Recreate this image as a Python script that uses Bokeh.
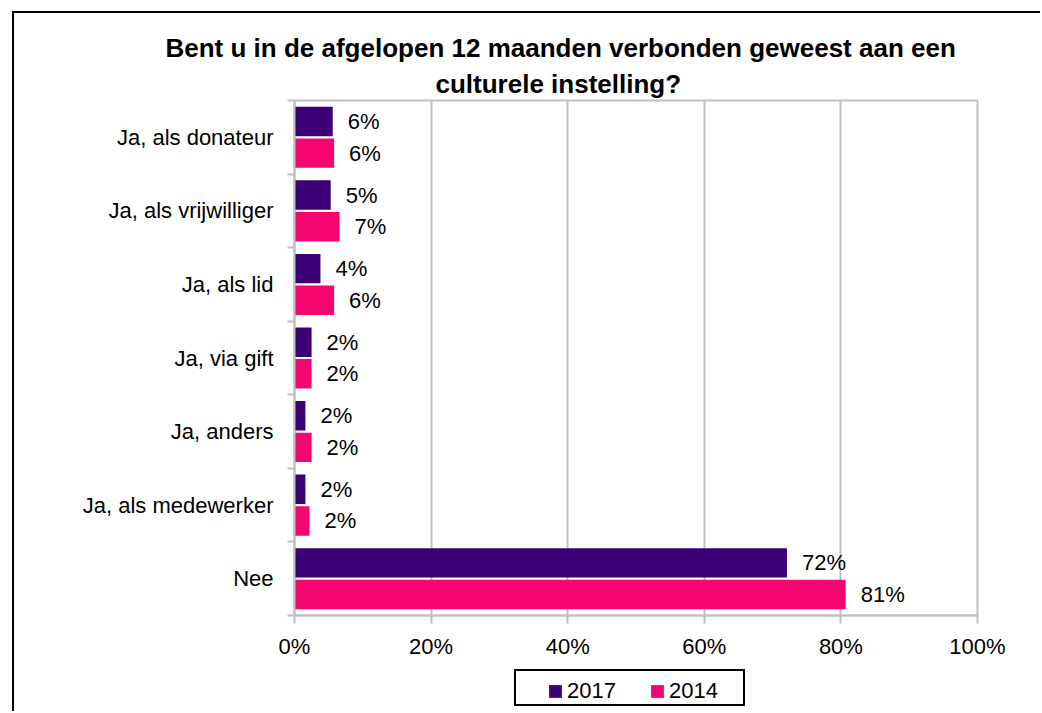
from bokeh.plotting import figure
from bokeh.layouts import column
from bokeh.models import (Range1d, FixedTicker, ColumnDataSource, Legend, LegendItem, Title)
from bokeh.embed import file_html
from bokeh.resources import INLINE
from bokeh.core.properties import value

# ---------------- data ----------------
categories = ["Ja, als donateur", "Ja, als vrijwilliger", "Ja, als lid", "Ja, via gift",
              "Ja, anders", "Ja, als medewerker", "Nee"]
values_2017 = [5.6, 5.3, 3.8, 2.5, 1.6, 1.6, 72.1]
values_2014 = [5.8, 6.6, 5.8, 2.5, 2.5, 2.2, 80.7]
labels_2017 = ["6%", "5%", "4%", "2%", "2%", "2%", "72%"]
labels_2014 = ["6%", "7%", "6%", "2%", "2%", "2%", "81%"]
series_names = ["2017", "2014"]
x_ticks = [0, 20, 40, 60, 80, 100]
x_tick_labels = ["0%", "20%", "40%", "60%", "80%", "100%"]
title_lines = ["Bent u in de afgelopen 12 maanden verbonden geweest aan een",
               "culturele instelling?"]

# ---------------- style ----------------
FONT = "Liberation Sans"
PURPLE = "#3d0076"
PINK = "#f5056f"
GRID = "#c0c0c0"
W = 1040
H_MAIN = 661
H_LEG = 50

n = len(categories)
centers = [n - i - 0.5 for i in range(n)]
off = 0.215

p = figure(width=W, height=H_MAIN, x_range=Range1d(0, 100), y_range=Range1d(0, n),
           min_border_left=294, min_border_right=63, min_border_top=100, min_border_bottom=43,
           toolbar_location=None, output_backend="svg", title=None)
p.background_fill_color = "white"
p.border_fill_color = None
p.outline_line_color = GRID
p.outline_line_width = 2

src17 = ColumnDataSource(dict(y=[c + off for c in centers], v=values_2017, t=labels_2017))
src14 = ColumnDataSource(dict(y=[c - off for c in centers], v=values_2014, t=labels_2014))

p.hbar(y="y", left=0, right="v", height=0.4, source=src17, fill_color=PURPLE, line_color=None)
p.hbar(y="y", left=0, right="v", height=0.4, source=src14, fill_color=PINK, line_color=None)

for src in (src17, src14):
    p.text(x="v", y="y", text="t", source=src, x_offset=15,
           text_align="left", text_baseline="middle",
           text_font=value(FONT), text_font_size="22px", text_color="black")

# x axis
xa = p.xaxis[0]
xa.ticker = FixedTicker(ticks=x_ticks)
xa.major_label_overrides = {t: l for t, l in zip(x_ticks, x_tick_labels)}
xa.axis_line_color = GRID
xa.axis_line_width = 2
xa.major_tick_line_color = GRID
xa.major_tick_line_width = 2
xa.major_tick_out = 8
xa.major_tick_in = 0
xa.minor_tick_line_color = None
xa.major_label_standoff = 10
xa.major_label_text_font = FONT
xa.major_label_text_font_size = "22px"
xa.major_label_text_color = "black"

# y axis (labels at band centres, ticks at band boundaries)
ya = p.yaxis[0]
ya.ticker = FixedTicker(ticks=centers, minor_ticks=list(range(n + 1)))
ya.major_label_overrides = {c: cat for c, cat in zip(centers, categories)}
ya.axis_line_color = GRID
ya.axis_line_width = 2
ya.major_tick_line_color = None
ya.major_tick_out = 0
ya.major_tick_in = 0
ya.minor_tick_line_color = GRID
ya.minor_tick_line_width = 2
ya.minor_tick_out = 7
ya.minor_tick_in = 0
ya.major_label_standoff = 14
ya.major_label_text_font = FONT
ya.major_label_text_font_size = "22px"
ya.major_label_text_color = "black"

p.xgrid.ticker = FixedTicker(ticks=x_ticks)
p.xgrid.grid_line_color = GRID
p.xgrid.grid_line_width = 2
p.ygrid.visible = False

# title: two lines (first added sits nearest to the plot)
p.add_layout(Title(text=title_lines[1], align="left", offset=141, standoff=3,
                   text_font=FONT, text_font_size="26px", text_font_style="bold",
                   text_color="black"), "above")
p.add_layout(Title(text=title_lines[0], align="left", offset=-129, standoff=5,
                   text_font=FONT, text_font_size="26px", text_font_style="bold",
                   text_color="black"), "above")

# ---------------- legend strip (same series, drawn out of view) ----------------
pl = figure(width=W, height=H_LEG, x_range=Range1d(0, 100), y_range=Range1d(100, 101),
            min_border_left=294, min_border_right=63, min_border_top=0, min_border_bottom=0,
            toolbar_location=None, output_backend="svg", title=None,
            x_axis_location=None, y_axis_location=None)
pl.grid.visible = False
pl.outline_line_color = None
pl.background_fill_color = None
pl.border_fill_color = None
k17 = pl.hbar(y="y", left=0, right="v", height=0.4, source=src17,
              fill_color=PURPLE, line_color=None)
k14 = pl.hbar(y="y", left=0, right="v", height=0.4, source=src14,
              fill_color=PINK, line_color=None)
legend = Legend(items=[LegendItem(label=series_names[0], renderers=[k17], index=0),
                       LegendItem(label=series_names[1], renderers=[k14], index=0)],
                orientation="horizontal", location=(253, 7),
                glyph_width=16, glyph_height=16, label_standoff=4, spacing=32,
                label_width=50, padding=0, margin=0,
                border_line_color=None, background_fill_alpha=0,
                label_text_font=FONT, label_text_font_size="22px", label_text_color="black")
pl.add_layout(legend, "center")

# decorative rules: outer frame (left + top) and the legend box, (x, y, w, h) in pixels
rules = [
    (12, 11, 2, 800), (12, 11, 1100, 2),
    (514, 669, 231, 2), (514, 704, 231, 2), (514, 669, 2, 37), (743, 669, 2, 37),
]
layout = column(p, pl, spacing=0)
layout.styles = {
    "background-color": "white",
    "background-image": ", ".join(["linear-gradient(#000, #000)"] * len(rules)),
    "background-size": ", ".join(f"{w}px {h}px" for _, _, w, h in rules),
    "background-position": ", ".join(f"{x}px {y}px" for x, y, _, _ in rules),
    "background-repeat": "no-repeat",
}

open("out.html", "w").write(file_html(layout, INLINE))
